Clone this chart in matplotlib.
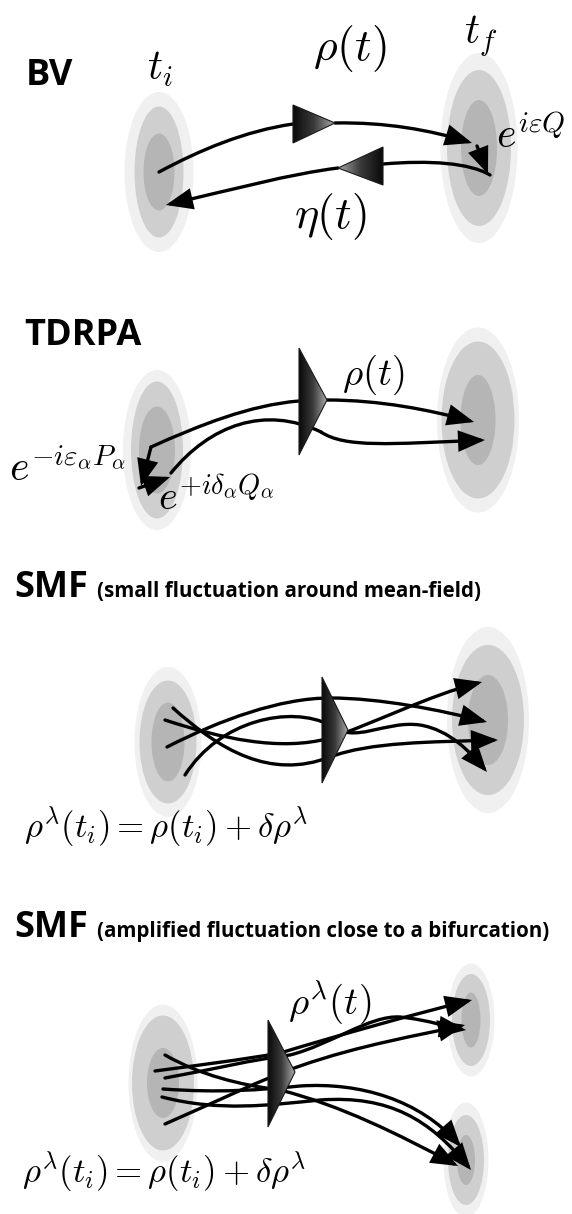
import numpy as np
import matplotlib.pyplot as plt
from matplotlib.patches import Ellipse, Polygon, FancyArrowPatch
from matplotlib.path import Path
from matplotlib.colors import LinearSegmentedColormap

plt.rcParams['mathtext.fontset'] = 'cm'

W, H = 572, 1214

# ---- blobs (centre x, centre y, widths/heights of outer, middle, inner rings)
blob_x = [159, 479, 157, 478, 168, 488, 163, 471, 466]
blob_y = [172, 148, 450, 420, 742, 720, 1083, 1020, 1160]
blob_w = [(69, 49, 31), (77, 64, 36), (68, 52, 36), (82, 73, 35),
          (67, 57, 33), (82, 72, 40), (69, 62, 32), (47, 38, 19), (45, 36, 18)]
blob_h = [(160, 131, 77), (190, 156, 96), (160, 137, 87), (185, 157, 90),
          (150, 123, 79), (186, 150, 90), (157, 135, 70), (113, 92, 55), (115, 90, 50)]
ring_colors = ['#f0f0f0', '#cfcfcf', '#b5b5b5']

# ---- gradient triangles (base top, base bottom, tip)
triangles = [
    [(293, 105), (293, 143), (335, 123)],
    [(383, 147), (383, 185), (338, 168)],
    [(299, 348), (299, 455), (327, 400)],
    [(322, 677), (322, 783), (348, 730)],
    [(268, 1020), (268, 1127), (295, 1072)],
]

# ---- trajectories (cubic bezier points), and whether they end in an arrow
curves = [
    # BV
    [(159, 172), (200, 150), (245, 131), (293, 124)],
    [(335, 123), (385, 122), (430, 130), (472, 143)],
    [(477, 146), (488, 174)],
    [(490, 175), (470, 163), (430, 160), (383, 164)],
    [(338, 168), (290, 174), (230, 190), (166, 205)],
    # TDRPA
    [(151, 447), (200, 425), (250, 405), (299, 401)],
    [(327, 400), (380, 400), (430, 410), (474, 422)],
    [(171, 473), (210, 425), (265, 405), (321, 432)],
    [(321, 432), (345, 448), (390, 444), (485, 440)],
    [(151, 447), (141, 486)],
    [(139, 488), (170, 477)],
    # SMF small
    [(167, 747), (220, 720), (280, 698), (330, 698), (380, 698), (440, 710), (487, 722)],
    [(165, 720), (220, 738), (280, 752), (330, 738), (370, 725), (430, 695), (482, 682)],
    [(173, 708), (220, 750), (270, 780), (330, 757), (370, 742), (430, 742), (498, 740)],
    [(185, 775), (220, 720), (290, 705), (330, 725), (355, 745), (385, 720), (420, 725),
     (450, 730), (470, 752), (487, 772)],
    # SMF bifurcation
    [(155, 1071), (200, 1065), (240, 1060), (280, 1053), (340, 1035), (410, 1015), (472, 1000)],
    [(165, 1055), (200, 1075), (240, 1085), (280, 1090), (340, 1105), (400, 1135), (458, 1166)],
    [(165, 1078), (220, 1068), (250, 1060), (290, 1055), (330, 1045), (370, 1015), (400, 1017),
     (430, 1020), (450, 1028), (466, 1030)],
    [(163, 1089), (220, 1093), (260, 1090), (300, 1086), (360, 1082), (420, 1100), (461, 1147)],
    [(162, 1097), (220, 1112), (270, 1105), (320, 1100), (390, 1095), (430, 1120), (471, 1170)],
    [(165, 1124), (220, 1100), (260, 1080), (300, 1066), (360, 1045), (420, 1035), (465, 1025)],
]
has_arrow = [False, True, True, False, True,
             False, True, False, True, True, True,
             True, True, True, True,
             True, True, True, True, True, True]

# ---- text
titles = ['BV', 'TDRPA', 'SMF', 'SMF']
title_x = [26, 24, 14, 14]
title_y = [85, 345, 597, 937]
subtitles = ['(small fluctuation around mean-field)',
             '(amplified fluctuation close to a bifurcation)']
subtitle_x = [97, 97]
subtitle_y = [597, 937]

math_labels = [r'$t_i$', r'$\rho(t)$', r'$t_f$', r'$e^{i\varepsilon Q}$', r'$\eta(t)$',
               r'$\rho(t)$', r'$e^{-i\varepsilon_\alpha P_\alpha}$', r'$e^{+i\delta_\alpha Q_\alpha}$',
               r'$\rho^\lambda(t)$']
math_x = [160, 350, 481, 531, 330, 373, 67, 216, 330]
math_y = [68, 48, 36, 136, 216, 375, 469, 499, 1003]
math_size = [30, 33, 30, 30, 33, 28, 30, 29, 28]

init_label = r'$\rho^\lambda(t_i) = \rho(t_i) + \delta\rho^\lambda$'
init_x = [24, 22]
init_y = [827, 1172]


fig = plt.figure(figsize=(W / 100, H / 100), dpi=100)
ax = fig.add_axes([0, 0, 1, 1])

# blobs
for cx, cy, ws, hs in zip(blob_x, blob_y, blob_w, blob_h):
    for w, h, c in zip(ws, hs, ring_colors):
        ax.add_patch(Ellipse((cx, cy), w, h, facecolor=c, edgecolor='none', zorder=1))

# curves
for pts, arr in zip(curves, has_arrow):
    if len(pts) == 2:
        codes = [Path.MOVETO, Path.LINETO]
    else:
        codes = [Path.MOVETO] + [Path.CURVE4] * (len(pts) - 1)
    style = '-|>,head_length=0.75,head_width=0.3' if arr else '-'
    p = FancyArrowPatch(path=Path(pts, codes), arrowstyle=style, mutation_scale=20,
                        color='black', lw=2.4, zorder=2, joinstyle='miter')
    ax.add_patch(p)

# triangles with a dark-to-grey gradient from base to tip
cmap = LinearSegmentedColormap.from_list('tri', ['#0a0a0a', '#3a3a3a', '#a8a8a8'])
for verts in triangles:
    poly = Polygon(verts, closed=True, facecolor='none', edgecolor='#1a1a1a', lw=0.8, zorder=4)
    ax.add_patch(poly)
    xs = [v[0] for v in verts]
    ys = [v[1] for v in verts]
    g = np.linspace(0, 1, 100)
    if verts[2][0] < verts[0][0]:
        g = g[::-1]
    im = ax.imshow(g[None, :], cmap=cmap, extent=(min(xs), max(xs), max(ys), min(ys)),
                   aspect='auto', interpolation='bilinear', zorder=3)
    im.set_clip_path(poly)

# text
for t, x, y in zip(titles, title_x, title_y):
    ax.text(x, y, t, fontsize=26, fontweight='bold', family='Open Sans',
            ha='left', va='baseline', zorder=5)
for t, x, y in zip(subtitles, subtitle_x, subtitle_y):
    ax.text(x, y, t, fontsize=14.8, fontweight='bold', family='Open Sans',
            ha='left', va='baseline', zorder=5)
for t, x, y, s in zip(math_labels, math_x, math_y, math_size):
    ax.text(x, y, t, fontsize=s, ha='center', va='center', zorder=5)
for x, y in zip(init_x, init_y):
    ax.text(x, y, init_label, fontsize=25, ha='left', va='center', zorder=5)

ax.set_xlim(0, W)
ax.set_ylim(H, 0)
ax.axis('off')
fig.savefig('out.png', dpi=100)
